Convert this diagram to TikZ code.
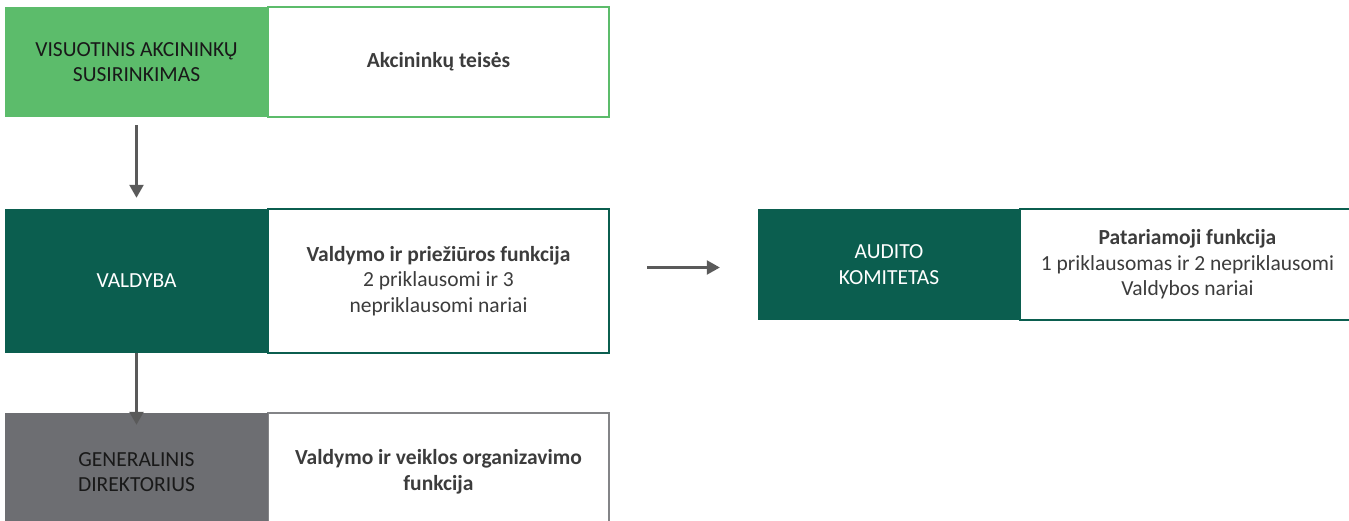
\documentclass[tikz,border=0pt]{standalone}
\usepackage{fontspec}
\setmainfont{Carlito}
\usetikzlibrary{arrows.meta}
\definecolor{vasgreen}{HTML}{5CBC6B}
\definecolor{valgreen}{HTML}{0B5E4F}
\definecolor{gdgray}{HTML}{6D6E72}
\definecolor{arrgray}{HTML}{5A5A5A}
\definecolor{txtgray}{HTML}{3C3C3C}
\begin{document}
\begin{tikzpicture}[x=1pt,y=-1pt,
  every node/.style={inner sep=0pt,align=center,font=\fontsize{21.5}{25.5}\selectfont},
  headbox/.style={minimum width=263pt,draw=none},
  funcbox/.style={minimum width=341pt,fill=white,line width=2pt,text=txtgray},
  arr/.style={-{Triangle[width=14pt,length=13pt]},line width=2.5pt,draw=arrgray}]
\useasboundingbox (0,0) rectangle (1349,521);
\clip (0,0) rectangle (1349,521);
% visuotinis susirinkimas
\node[funcbox,draw=vasgreen,minimum height=110pt] (vasf) at (438.5,62) {\textbf{Akcininkų teisės}};
\node[headbox,fill=vasgreen,minimum height=110pt,text=black!90] (vas) at (136.5,62) {VISUOTINIS AKCININKŲ\\SUSIRINKIMAS};
% valdyba
\node[funcbox,draw=valgreen,minimum height=144pt] (valf) at (438.5,281) {\textbf{Valdymo ir priežiūros funkcija}\\2 priklausomi ir 3\\nepriklausomi nariai};
\node[headbox,fill=valgreen,minimum height=144pt,text=white] (val) at (136.5,281) {VALDYBA};
% generalinis direktorius
\node[funcbox,draw=gdgray!85,minimum height=118pt] (gdf) at (438.5,472) {\textbf{Valdymo ir veiklos organizavimo}\\\textbf{funkcija}};
\node[headbox,fill=gdgray,minimum height=118pt,text=black!90] (gd) at (136.5,472) {GENERALINIS\\DIREKTORIUS};
% audito komitetas
\node[funcbox,draw=valgreen,minimum width=335pt,minimum height=111pt] (akf) at (1187.5,264.5) {\textbf{Patariamoji funkcija}\\1 priklausomas ir 2 nepriklausomi\\Valdybos nariai};
\node[headbox,fill=valgreen,minimum width=262pt,minimum height=111pt,text=white] (ak) at (889,264.5) {AUDITO\\KOMITETAS};

\draw[arr,shorten <=8pt,shorten >=11pt] (vas.south) -- (val.north);
\draw[arr,shorten >=-12pt] (val.south) -- (gd.north);
\draw[arr,shorten <=37pt,shorten >=38pt] ([yshift=-3pt]valf.east |- ak.west) -- ([yshift=-3pt]ak.west);
\end{tikzpicture}
\end{document}
